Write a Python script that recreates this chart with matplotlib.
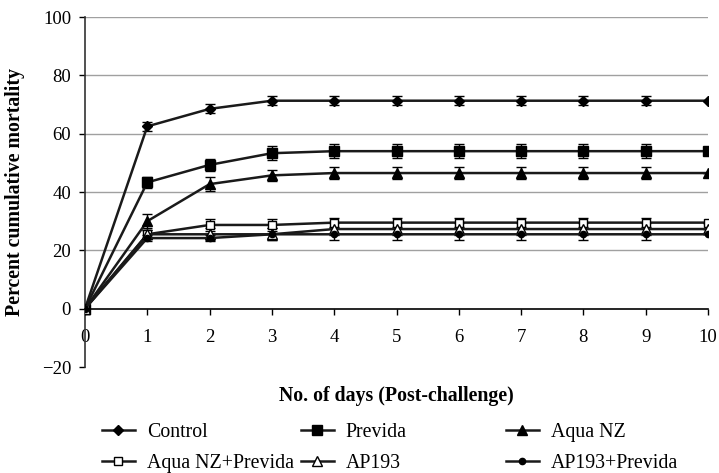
import matplotlib.pyplot as plt
import numpy as np

plt.rcParams['font.family'] = ['Liberation Serif', 'DejaVu Serif']

# dados
dias = list(range(0, 11))
controle = [0, 62.5, 68.5, 71.3, 71.3, 71.3, 71.3, 71.3, 71.3, 71.3, 71.3]
previda = [0, 43.3, 49.3, 53.3, 54.0, 54.0, 54.0, 54.0, 54.0, 54.0, 54.0]
aqua_nz = [0, 30.0, 42.7, 45.7, 46.5, 46.5, 46.5, 46.5, 46.5, 46.5, 46.5]
aqua_nz_previda = [0, 25.5, 28.7, 28.7, 29.5, 29.5, 29.5, 29.5, 29.5, 29.5, 29.5]
ap193 = [0, 25.5, 25.5, 25.5, 27.3, 27.3, 27.3, 27.3, 27.3, 27.3, 27.3]
ap193_previda = [0, 24.2, 24.2, 25.5, 25.5, 25.5, 25.5, 25.5, 25.5, 25.5, 25.5]

erro_controle = [0, 1.5, 1.5, 1.5, 1.5, 1.5, 1.5, 1.5, 1.5, 1.5, 0]
erro_previda = [0, 2.0, 2.0, 2.5, 2.5, 2.5, 2.5, 2.5, 2.5, 2.5, 0]
erro_aqua_nz = [0, 2.5, 2.5, 2.0, 2.0, 2.0, 2.0, 2.0, 2.0, 2.0, 0]
erro_aqua_nz_previda = [0, 1.5, 2.0, 2.0, 1.5, 1.5, 1.5, 1.5, 1.5, 1.5, 0]
erro_ap193 = [0, 1.5, 2.0, 2.0, 2.0, 2.0, 2.0, 2.0, 2.0, 2.0, 0]
erro_ap193_previda = [0, 1.0, 1.0, 2.0, 2.0, 2.0, 2.0, 2.0, 2.0, 2.0, 0]

nomes = ['Control', 'Previda', 'Aqua NZ', 'Aqua NZ+Previda', 'AP193', 'AP193+Previda']
series = [controle, previda, aqua_nz, aqua_nz_previda, ap193, ap193_previda]
erros = [erro_controle, erro_previda, erro_aqua_nz, erro_aqua_nz_previda, erro_ap193, erro_ap193_previda]

# estilo de cada serie: marcador, tamanho, preenchimento
estilos = [
    ('D', 5.5, 'black'),
    ('s', 7.5, 'black'),
    ('^', 7.5, 'black'),
    ('s', 5.5, 'white'),
    ('^', 7.5, 'white'),
    ('o', 4.5, 'black'),
]

fig = plt.figure(figsize=(7.19, 4.73), dpi=100)
ax = fig.add_axes([85 / 719, 1 - 367 / 473, 623 / 719, 350 / 473])

linhas = []
for y, e, (m, ms, fc), nome in zip(series, erros, estilos, nomes):
    ax.errorbar(dias, y, yerr=e, fmt='none', ecolor='black', elinewidth=1.0,
                capsize=3.5, capthick=1.0, zorder=3)
    ln, = ax.plot(dias, y, color='#1a1a1a', lw=1.8, marker=m, markersize=ms,
                  markerfacecolor=fc, markeredgecolor='black', markeredgewidth=1.0,
                  label=nome, zorder=4)
    linhas.append(ln)

ax.set_xlim(0, 10)
ax.set_ylim(-20, 100)
ax.set_yticks([-20, 0, 20, 40, 60, 80, 100])
ax.set_yticklabels(['\u221220', '0', '20', '40', '60', '80', '100'])
ax.set_xticks(dias)

for g in [20, 40, 60, 80, 100]:
    ax.axhline(g, color='#a0a0a0', lw=1.0, zorder=1)

ax.spines['top'].set_visible(False)
ax.spines['right'].set_visible(False)
ax.spines['bottom'].set_position(('data', 0))
ax.spines['bottom'].set_color('black')
ax.spines['bottom'].set_linewidth(1.2)
ax.spines['left'].set_color('#333333')
ax.spines['left'].set_linewidth(1.2)

ax.tick_params(axis='x', direction='out', length=4, width=1.0, pad=10.5, labelsize=13.5)
ax.tick_params(axis='y', direction='out', length=4, width=1.0, pad=6, labelsize=13.5)

ax.set_ylabel('Percent cumulative mortality', fontsize=14.3, fontweight='bold')
ax.yaxis.set_label_coords(-0.096, 0.5)
fig.text(396 / 719, 1 - 396 / 473, 'No. of days (Post-challenge)', fontsize=14.3,
         fontweight='bold', ha='center', va='center')

# legenda em tres colunas colocadas a mao
colunas_x = [102, 301, 506]
for i, cx in enumerate(colunas_x):
    hs = [linhas[i], linhas[i + 3]]
    fig.legend(hs, [h.get_label() for h in hs], loc='upper left',
               bbox_to_anchor=(cx / 719, 1 - 423 / 473), frameon=False,
               fontsize=14.3, handlelength=1.66, handletextpad=0.6,
               labelspacing=0.62, borderpad=0, borderaxespad=0)

fig.savefig('out.png', dpi=100)
